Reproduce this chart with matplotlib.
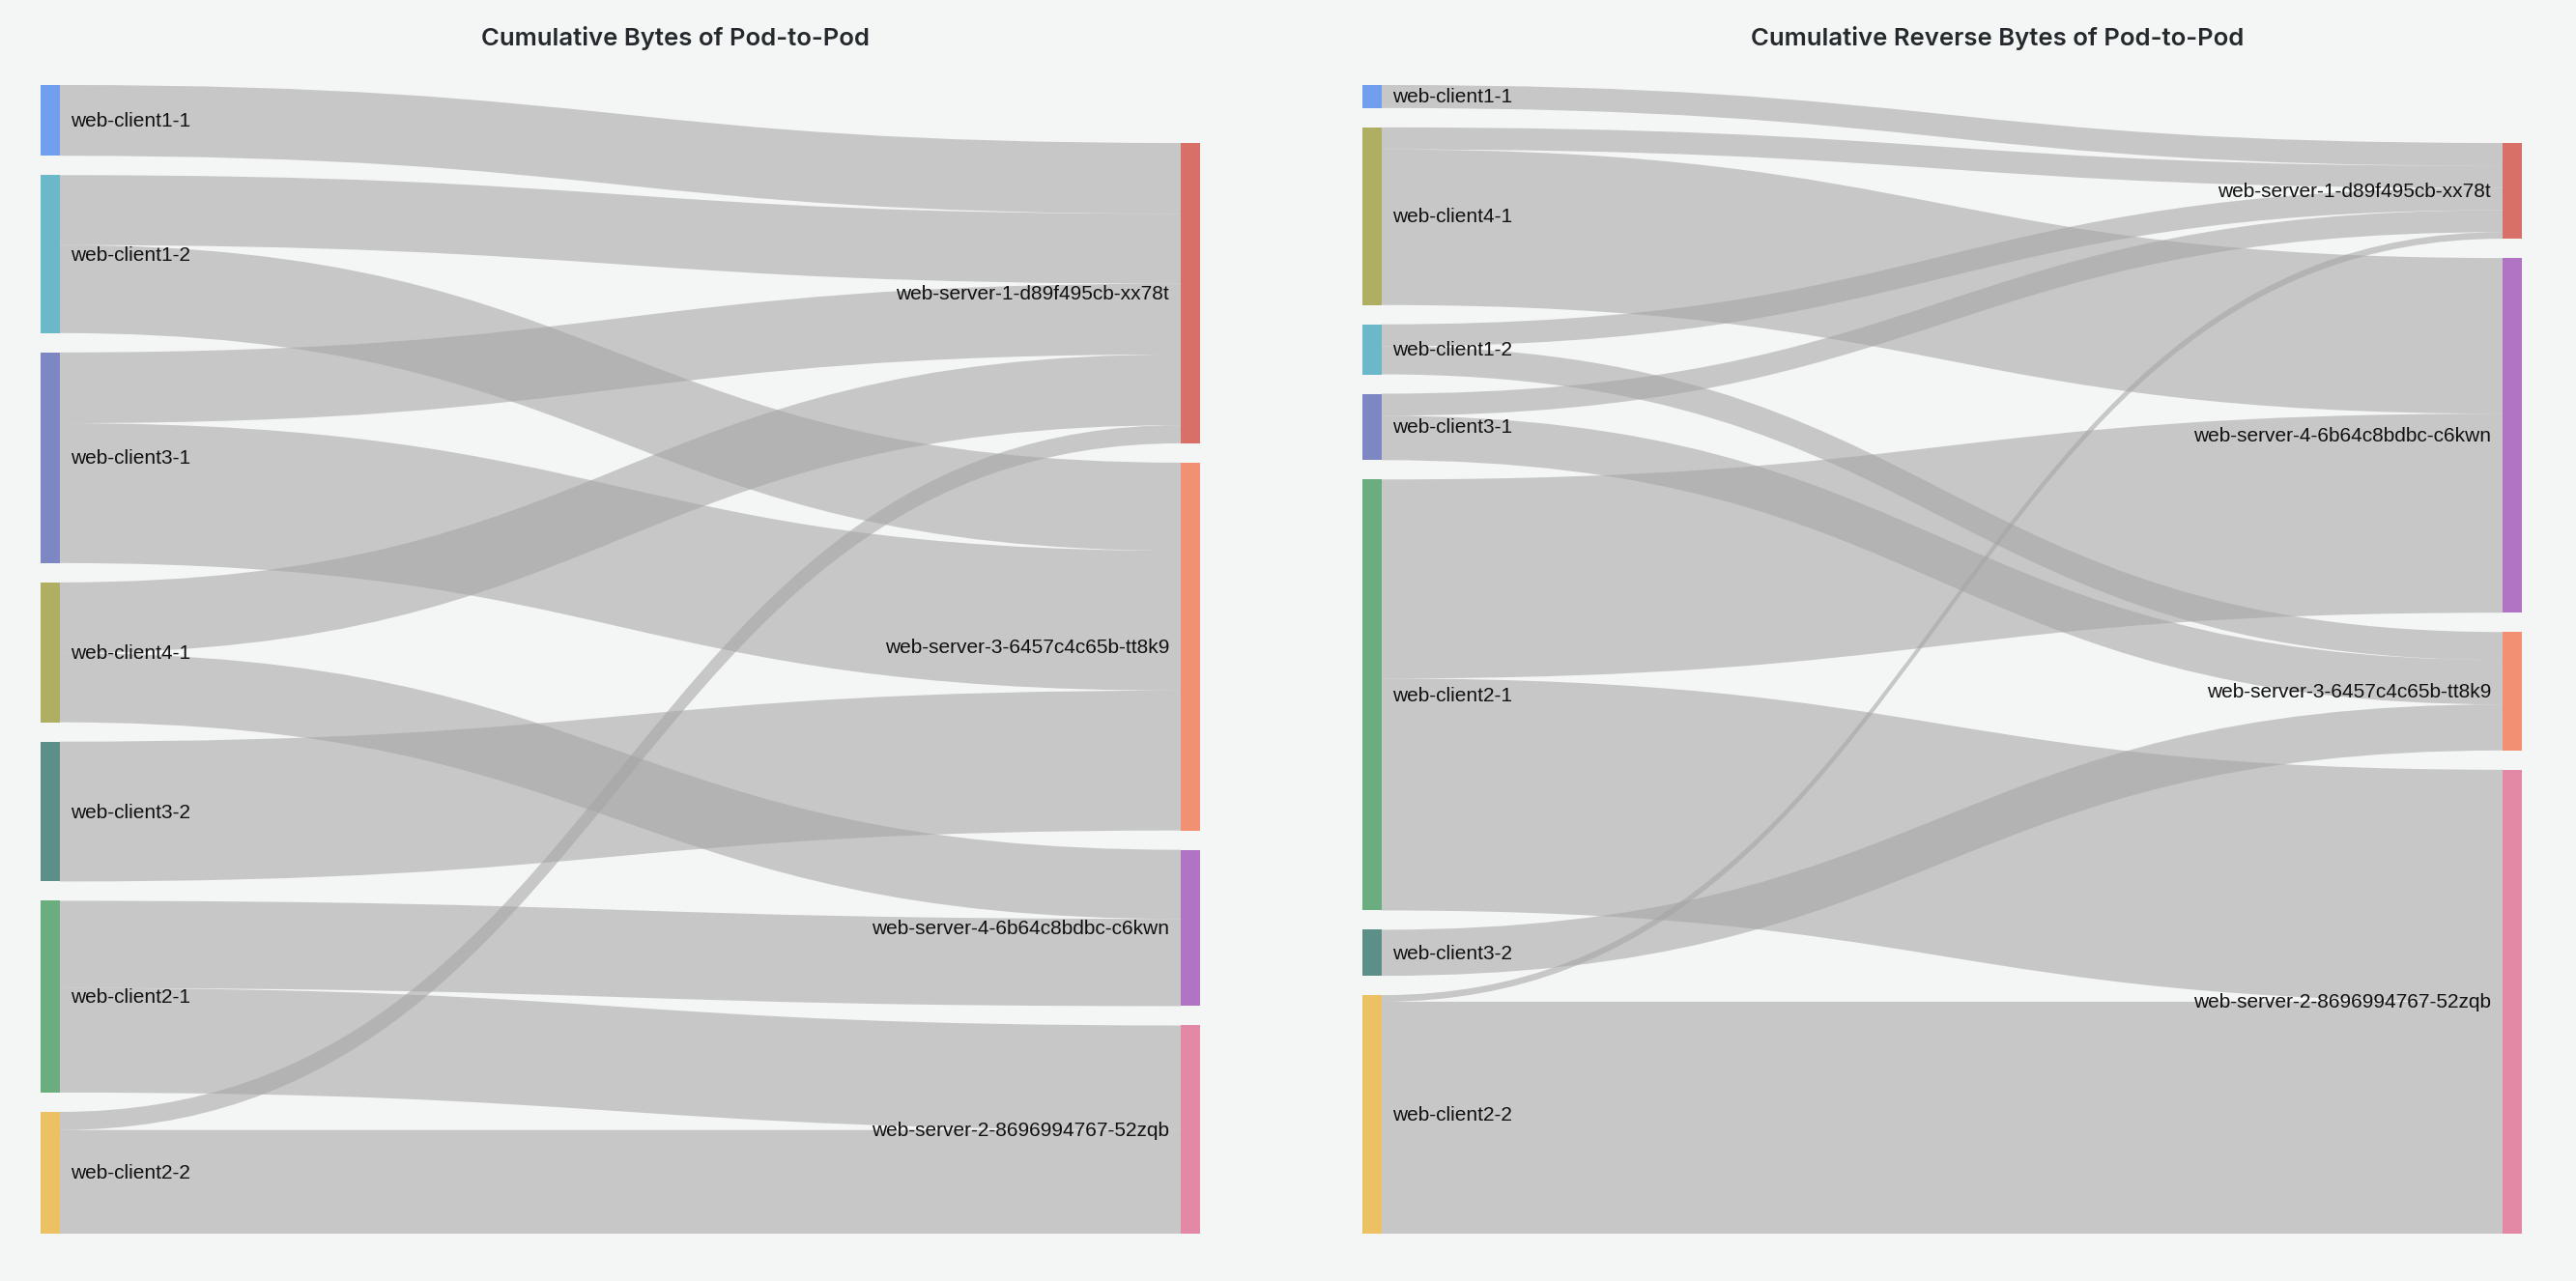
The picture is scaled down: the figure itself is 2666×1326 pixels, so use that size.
#!/usr/bin/env python3
# -*- coding: utf-8 -*-

"""
Pod-to-Pod byte counters drawn as two sankey panels
(forward bytes on the left, reverse bytes on the right)
"""

import matplotlib
matplotlib.use('Agg')
import matplotlib.pyplot as plt
from matplotlib.path import Path
from matplotlib.patches import PathPatch, Rectangle

plt.rcParams['font.family'] = ['Liberation Sans', 'DejaVu Sans']

# ---------------- data ----------------
SERVER_1 = 'web-server-1-d89f495cb-xx78t'
SERVER_2 = 'web-server-2-8696994767-52zqb'
SERVER_3 = 'web-server-3-6457c4c65b-tt8k9'
SERVER_4 = 'web-server-4-6b64c8bdbc-c6kwn'

# forward bytes (relative units)
fwd_sources = ['web-client1-1', 'web-client1-2', 'web-client3-1', 'web-client4-1',
               'web-client3-2', 'web-client2-1', 'web-client2-2']
fwd_targets = [SERVER_1, SERVER_3, SERVER_4, SERVER_2]
fwd_link_src = ['web-client1-1', 'web-client1-2', 'web-client1-2', 'web-client3-1',
                'web-client3-1', 'web-client4-1', 'web-client4-1', 'web-client3-2',
                'web-client2-1', 'web-client2-1', 'web-client2-2', 'web-client2-2']
fwd_link_dst = [SERVER_1, SERVER_1, SERVER_3, SERVER_1,
                SERVER_3, SERVER_1, SERVER_4, SERVER_3,
                SERVER_4, SERVER_2, SERVER_1, SERVER_2]
fwd_link_val = [43, 42.5, 53.5, 43, 85, 43, 42, 85, 53, 63.5, 11, 63]

# reverse bytes
rev_sources = ['web-client1-1', 'web-client4-1', 'web-client1-2', 'web-client3-1',
               'web-client2-1', 'web-client3-2', 'web-client2-2']
rev_targets = [SERVER_1, SERVER_4, SERVER_3, SERVER_2]
rev_link_src = ['web-client1-1', 'web-client4-1', 'web-client4-1', 'web-client1-2',
                'web-client1-2', 'web-client3-1', 'web-client3-1', 'web-client2-1',
                'web-client2-1', 'web-client3-2', 'web-client2-2', 'web-client2-2']
rev_link_dst = [SERVER_1, SERVER_1, SERVER_4, SERVER_1,
                SERVER_3, SERVER_1, SERVER_3, SERVER_4,
                SERVER_2, SERVER_3, SERVER_1, SERVER_2]
rev_link_val = [14, 13.4, 94.6, 13.4, 17, 13.4, 27, 121, 141, 28, 4, 141]

node_colors = {
    'web-client1-1': '#6f9fee',
    'web-client1-2': '#6ab8c9',
    'web-client3-1': '#7c87c4',
    'web-client4-1': '#afae63',
    'web-client3-2': '#5b8f88',
    'web-client2-1': '#6aad7e',
    'web-client2-2': '#ecc163',
    SERVER_1: '#d87068',
    SERVER_3: '#f29074',
    SERVER_4: '#b173c3',
    SERVER_2: '#e388a5',
}

# ---------------- layout (figure pixels) ----------------
W, H = 2666, 1326
BG = '#f4f5f5'
TOP, BOTTOM = 88, 1277
GAP = 20
NODE_W = 20
LINK_COLOR = '#a4a4a4'
LINK_ALPHA = 0.56


def compute_layout(sources, targets, link_src, link_dst, link_val):
    """node spans and link end spans, sources stacked from the top, targets from the bottom"""
    out_tot = {n: 0.0 for n in sources}
    in_tot = {n: 0.0 for n in targets}
    for s, t, v in zip(link_src, link_dst, link_val):
        out_tot[s] += v
        in_tot[t] += v
    ky = (BOTTOM - TOP - GAP * (len(sources) - 1)) / sum(link_val)

    spans = {}
    y = TOP
    for n in sources:
        h = out_tot[n] * ky
        spans[n] = (y, y + h)
        y += h + GAP
    y = BOTTOM
    for n in reversed(targets):
        h = in_tot[n] * ky
        spans[n] = (y - h, y)
        y -= h + GAP

    links = list(zip(link_src, link_dst, link_val))
    ends = {}
    # outgoing ends ordered by target position
    for n in sources:
        y = spans[n][0]
        for i in sorted([i for i, l in enumerate(links) if l[0] == n],
                        key=lambda i: targets.index(links[i][1])):
            h = links[i][2] * ky
            ends[i] = [(y, y + h), None]
            y += h
    # incoming ends ordered by source position
    for n in targets:
        y = spans[n][0]
        for i in sorted([i for i, l in enumerate(links) if l[1] == n],
                        key=lambda i: sources.index(links[i][0])):
            h = links[i][2] * ky
            ends[i][1] = (y, y + h)
            y += h
    return spans, [ends[i] for i in range(len(links))]


def draw_band(ax, x0, x1, s_span, t_span):
    xm = (x0 + x1) / 2
    verts = [(x0, s_span[0]), (xm, s_span[0]), (xm, t_span[0]), (x1, t_span[0]),
             (x1, t_span[1]), (xm, t_span[1]), (xm, s_span[1]), (x0, s_span[1]),
             (x0, s_span[0])]
    codes = [Path.MOVETO, Path.CURVE4, Path.CURVE4, Path.CURVE4,
             Path.LINETO, Path.CURVE4, Path.CURVE4, Path.CURVE4, Path.CLOSEPOLY]
    ax.add_patch(PathPatch(Path(verts, codes), facecolor=LINK_COLOR, alpha=LINK_ALPHA,
                           linewidth=0, zorder=1))


def draw_sankey(ax, title, title_x, src_x, dst_x, sources, targets, link_src, link_dst, link_val):
    spans, ends = compute_layout(sources, targets, link_src, link_dst, link_val)

    for s_span, t_span in ends:
        draw_band(ax, src_x + NODE_W, dst_x, s_span, t_span)

    for n in sources:
        y0, y1 = spans[n]
        ax.add_patch(Rectangle((src_x, y0), NODE_W, y1 - y0, facecolor=node_colors[n],
                               linewidth=0, zorder=2))
        ax.text(src_x + NODE_W + 11, (y0 + y1) / 2 + 1, n, ha='left', va='center',
                fontsize=15, color='#111111', zorder=3)
    for n in targets:
        y0, y1 = spans[n]
        ax.add_patch(Rectangle((dst_x, y0), NODE_W, y1 - y0, facecolor=node_colors[n],
                               linewidth=0, zorder=2))
        ax.text(dst_x - 12, (y0 + y1) / 2 + 1, n, ha='right', va='center',
                fontsize=15, color='#111111', zorder=3)

    ax.text(title_x, 40, title, ha='center', va='center', fontsize=18.5,
            fontweight='semibold', color='#24292e', family=['Inter', 'DejaVu Sans'])


def main():
    fig = plt.figure(figsize=(W / 100, H / 100), dpi=100, facecolor=BG)
    ax = fig.add_axes([0, 0, 1, 1])
    ax.set_xlim(0, W)
    ax.set_ylim(H, 0)
    ax.axis('off')

    draw_sankey(ax, 'Cumulative Bytes of Pod-to-Pod', 699, 42, 1222,
                fwd_sources, fwd_targets, fwd_link_src, fwd_link_dst, fwd_link_val)
    draw_sankey(ax, 'Cumulative Reverse Bytes of Pod-to-Pod', 2067, 1410, 2590,
                rev_sources, rev_targets, rev_link_src, rev_link_dst, rev_link_val)

    fig.savefig('out.png', dpi=100, facecolor=BG)


if __name__ == '__main__':
    main()
